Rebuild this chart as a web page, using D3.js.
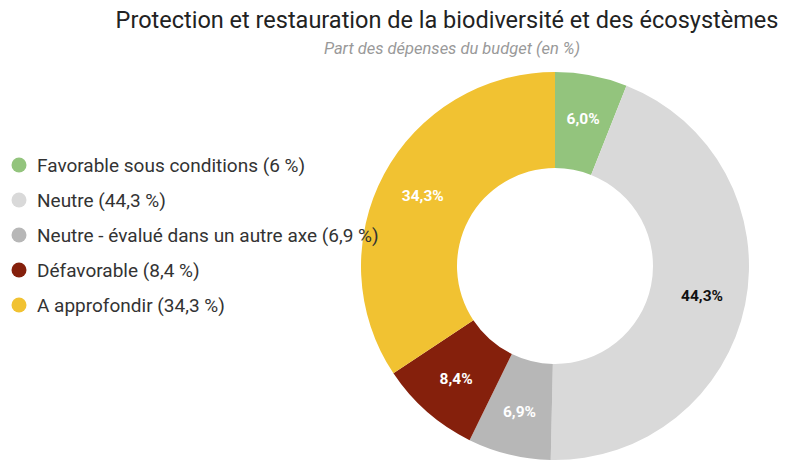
<!DOCTYPE html>
<html>
<head>
<meta charset="utf-8">
<script src="https://cdn.jsdelivr.net/npm/d3@7"></script>
<style>
  body { margin: 0; background: #fff; }
  text { font-family: Roboto, "Noto Sans", sans-serif; }
  .title { font-size: 23.5px; fill: #222; }
  .subTitle { font-size: 16.5px; fill: #999; font-style: italic; }
  .legendText { font-size: 19px; fill: #333; }
  .sliceLabel { font-size: 15.5px; font-weight: bold; }
</style>
</head>
<body>
<div id="chart"></div>
<script>
// Data
var categories = ["Favorable sous conditions", "Neutre", "Neutre - évalué dans un autre axe", "Défavorable", "A approfondir"];
var values = [6.0, 44.3, 6.9, 8.4, 34.3];
var legendValues = ["6", "44,3", "6,9", "8,4", "34,3"];
var sliceLabels = ["6,0%", "44,3%", "6,9%", "8,4%", "34,3%"];
var colors = ["#93c47d", "#d9d9d9", "#b7b7b7", "#85200c", "#f1c232"];
var labelColors = ["#fff", "#111", "#fff", "#fff", "#fff"];

// Spacing
var width = 786, height = 463;
var cx = 555, cy = 266;
var outerR = 194, innerR = 98;

var svg = d3.select("#chart")
	.append("svg")
	.attr("width", width)
	.attr("height", height);

// Title and subtitle
svg.append("text")
	.attr("x", 447)
	.attr("y", 28)
	.style("text-anchor", "middle")
	.text("Protection et restauration de la biodiversité et des écosystèmes")
	.attr("class", "title");

svg.append("text")
	.attr("x", 452)
	.attr("y", 54)
	.style("text-anchor", "middle")
	.text("Part des dépenses du budget (en %)")
	.attr("class", "subTitle");

// Donut
var data = categories.map(function(c, i) {
	return {name: c, value: values[i], label: sliceLabels[i], color: colors[i], labelColor: labelColors[i]};
});

var pie = d3.pie()
	.sort(null)
	.value(function(d) { return d.value; });

var arc = d3.arc()
	.innerRadius(innerR)
	.outerRadius(outerR);

var labelArc = d3.arc()
	.innerRadius(150)
	.outerRadius(150);

var g = svg.append("g")
	.attr("transform", "translate(" + cx + "," + cy + ")");

var arcs = pie(data);

g.selectAll(".slice")
	.data(arcs)
	.enter()
	.append("path")
	.attr("class", "slice")
	.attr("d", arc)
	.style("fill", function(d) { return d.data.color; });

g.selectAll(".sliceLabel")
	.data(arcs)
	.enter()
	.append("text")
	.attr("class", "sliceLabel")
	.attr("transform", function(d) { return "translate(" + labelArc.centroid(d) + ")"; })
	.attr("dy", "0.35em")
	.style("text-anchor", "middle")
	.style("fill", function(d) { return d.data.labelColor; })
	.text(function(d) { return d.data.label; });

// Legend
var legendY = d3.scalePoint()
	.domain(categories)
	.range([165, 305]);

var legend = svg.selectAll(".legend")
	.data(data)
	.enter()
	.append("g")
	.attr("class", "legend")
	.attr("transform", function(d) { return "translate(0," + legendY(d.name) + ")"; });

legend.append("circle")
	.attr("cx", 19)
	.attr("cy", 0)
	.attr("r", 7.5)
	.style("fill", function(d) { return d.color; });

legend.append("text")
	.attr("x", 37)
	.attr("y", 0)
	.attr("dy", "0.35em")
	.attr("class", "legendText")
	.text(function(d, i) { return d.name + " (" + legendValues[i] + " %)"; });
</script>
</body>
</html>
